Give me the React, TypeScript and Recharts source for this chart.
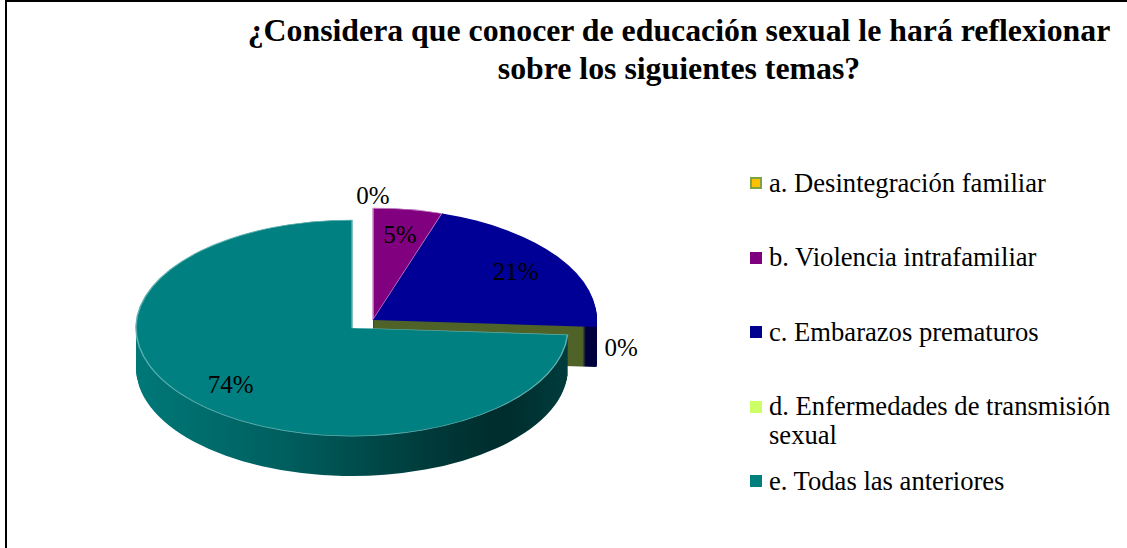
import React from 'react';
import { PieChart, Pie, Cell, Legend } from 'recharts';

const categories = [
  'a. Desintegración familiar',
  'b. Violencia intrafamiliar',
  'c. Embarazos prematuros',
  'd. Enfermedades de transmisión sexual',
  'e. Todas las anteriores',
];
const percents = [0, 5, 21, 0, 74];

const topColors = ['#FFC000', '#800080', '#000096', '#CCFF66', '#008080'];
const sideColors = ['#7F6000', '#400040', 'url(#backSide)', '#4F6228', 'url(#tealSide)'];
const legendColors = ['#FFC000', '#7F007F', '#000090', '#CCFF66', '#007F7F'];

// slices drawn around the rear centre vs the exploded front slice
const backGroup = [0, 1, 2, 3];
const frontGroup = [4];

const data = categories.map((name, i) => ({ name, value: percents[i] }));

const W = 1127;
const H = 548;
const SQUASH = 0.5;
const DEPTH = 40;
const BACK = { cx: 373, cy: 320, r: 224 };
const FRONT = { cx: 352, cy: 328, r: 216 };
const FONT = "'Liberation Serif', 'Times New Roman', serif";

const layers = Array.from({ length: DEPTH }, (_, k) => DEPTH - k);

const makeLabel = (group: number[]) => (props: any) => {
  const { cx, cy, midAngle, outerRadius, index, value } = props;
  if (!group.includes(index)) return null;
  const rad = (-midAngle * Math.PI) / 180;
  const inside = value > 0;
  const r = inside ? outerRadius * 0.77 : outerRadius * 1.11;
  const x = cx + r * Math.cos(rad);
  let y = cy + r * Math.sin(rad) * SQUASH;
  if (!inside) y += (DEPTH / 2) * Math.abs(Math.cos(rad));
  return (
    <text
      key={`lbl-${index}`}
      x={x}
      y={y}
      textAnchor="middle"
      dominantBaseline="central"
      fontFamily={FONT}
      fontSize={25}
      fill="#000"
    >
      {`${value}%`}
    </text>
  );
};

const renderLegend = () => (
  <div style={{ fontFamily: FONT, fontSize: 26.6, color: '#000' }}>
    {categories.map((name, i) => (
      <div key={name} style={{ display: 'flex', alignItems: 'flex-start', height: 74.5 }}>
        <span
          style={{
            display: 'inline-block',
            boxSizing: 'border-box',
            width: 12,
            height: 12,
            marginTop: 8.5,
            background: legendColors[i],
            border: i === 0 ? '2px solid #7EA346' : 'none',
            flex: '0 0 auto',
          }}
        />
        <span style={{ marginLeft: 7, lineHeight: '29px', width: 352 }}>{name}</span>
      </div>
    ))}
  </div>
);

const slicePie = (
  key: string,
  center: { cx: number; cy: number; r: number },
  offset: number,
  group: number[],
  colors: string[],
  top: boolean
) => (
  <Pie
    key={key}
    data={data}
    dataKey="value"
    nameKey="name"
    cx={center.cx}
    cy={(center.cy + offset) / SQUASH}
    outerRadius={center.r}
    startAngle={90}
    endAngle={-270}
    stroke="none"
    isAnimationActive={false}
  >
    {data.map((d, i) => (
      <Cell
        key={`${key}-${i}`}
        fill={group.includes(i) ? colors[i] : 'none'}
        stroke={top && group.includes(i) ? (i === 4 ? '#5fb0b0' : i === 1 ? '#c890c8' : 'none') : 'none'}
        strokeWidth={top ? 1.5 : 0}
      />
    ))}
  </Pie>
);

export default function App() {
  return (
    <div
      style={{
        position: 'absolute',
        left: 0,
        top: 0,
        width: W,
        height: H,
        overflow: 'hidden',
        background: '#fff',
      }}
    >
      <svg width={0} height={0} style={{ position: 'absolute' }}>
        <defs>
          <linearGradient id="tealSide" x1="0" y1="0" x2="1" y2="0">
            <stop offset="0" stopColor="#007878" />
            <stop offset="0.35" stopColor="#005e5e" />
            <stop offset="0.7" stopColor="#003838" />
            <stop offset="0.85" stopColor="#002c2c" />
            <stop offset="1" stopColor="#003c3c" />
          </linearGradient>
          <linearGradient id="backSide" x1="0" y1="0" x2="1" y2="0">
            <stop offset="0" stopColor="#4F6228" />
            <stop offset="0.935" stopColor="#4F6228" />
            <stop offset="0.95" stopColor="#00003C" />
            <stop offset="1" stopColor="#00003C" />
          </linearGradient>
        </defs>
      </svg>

      <div
        style={{
          position: 'absolute',
          left: 5,
          top: 0,
          width: 1140,
          height: 600,
          border: '2px solid #000',
        }}
      />

      <div
        style={{
          position: 'absolute',
          left: 0,
          top: 0,
          transform: `scaleY(${SQUASH})`,
          transformOrigin: '0 0',
        }}
      >
        <PieChart width={W} height={H / SQUASH} margin={{ top: 0, right: 0, bottom: 0, left: 0 }}>
          {layers.map((off) => slicePie(`bs-${off}`, BACK, off, backGroup, sideColors, false))}
          {slicePie('btop', BACK, 0, backGroup, topColors, true)}
          {layers.map((off) => slicePie(`fs-${off}`, FRONT, off, frontGroup, sideColors, false))}
          {slicePie('ftop', FRONT, 0, frontGroup, topColors, true)}
        </PieChart>
      </div>

      <div style={{ position: 'absolute', left: 0, top: 0 }}>
        <PieChart width={W} height={H} margin={{ top: 0, right: 0, bottom: 0, left: 0 }}>
          <Pie
            data={data}
            dataKey="value"
            nameKey="name"
            cx={BACK.cx}
            cy={BACK.cy}
            outerRadius={BACK.r}
            startAngle={90}
            endAngle={-270}
            fill="none"
            stroke="none"
            labelLine={false}
            label={makeLabel(backGroup)}
            isAnimationActive={false}
          />
          <Pie
            data={data}
            dataKey="value"
            nameKey="name"
            cx={FRONT.cx}
            cy={FRONT.cy}
            outerRadius={FRONT.r}
            startAngle={90}
            endAngle={-270}
            fill="none"
            stroke="none"
            labelLine={false}
            label={makeLabel(frontGroup)}
            isAnimationActive={false}
          />
          <Legend
            layout="vertical"
            align="right"
            verticalAlign="top"
            content={renderLegend}
            wrapperStyle={{ left: 750, right: 'auto', top: 168.5, width: 377 }}
          />
        </PieChart>
      </div>

      <div
        style={{
          position: 'absolute',
          left: 179,
          top: 12,
          width: 1000,
          textAlign: 'center',
          fontFamily: FONT,
          fontWeight: 'bold',
          fontSize: 31.8,
          lineHeight: '38px',
          whiteSpace: 'nowrap',
          color: '#000',
        }}
      >
        ¿Considera que conocer de educación sexual le hará reflexionar
        <br />
        sobre los siguientes temas?
      </div>
    </div>
  );
}
